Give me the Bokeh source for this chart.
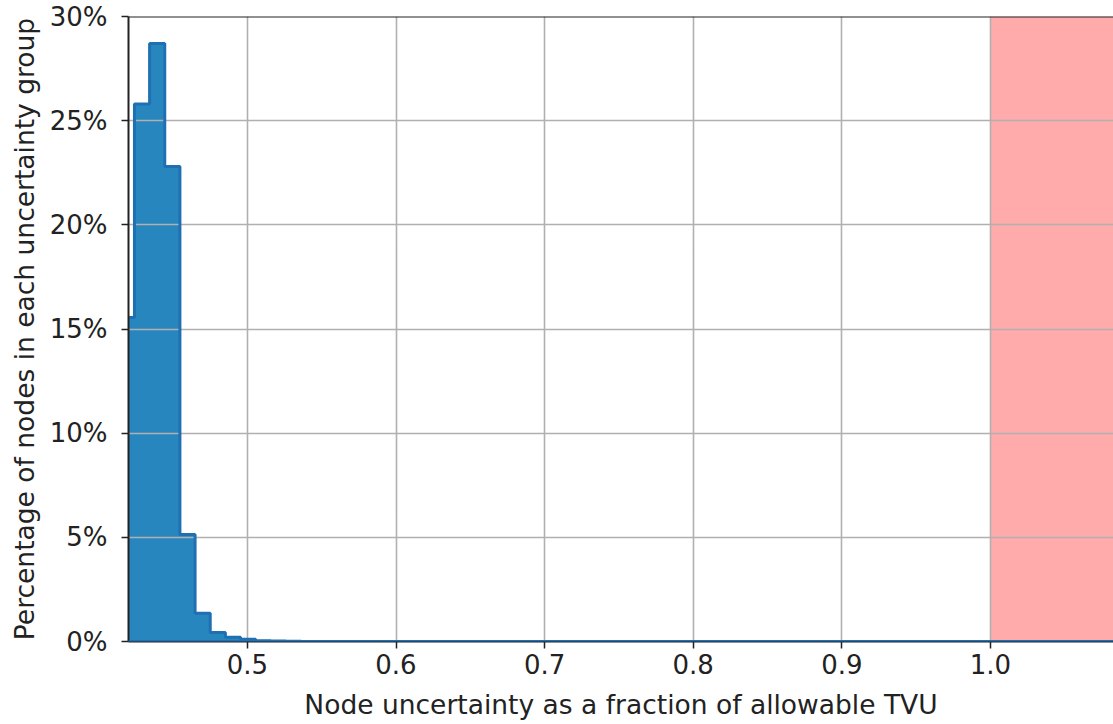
import numpy as np
from bokeh.plotting import figure
from bokeh.models import Range1d, FixedTicker, NumeralTickFormatter, Span
from bokeh.embed import file_html
from bokeh.resources import INLINE

# Histogram of node uncertainty (fraction of allowable TVU)
bin_start = 0.4138
bin_width = 0.0102
pct_nodes = [15.55, 25.8, 28.7, 22.8, 5.14, 1.36, 0.43, 0.21, 0.11, 0.04, 0.02, 0.01]

tvu_limit = 1.0
x_ticks = [0.5, 0.6, 0.7, 0.8, 0.9, 1.0]
y_ticks = [0.0, 0.05, 0.10, 0.15, 0.20, 0.25, 0.30]
x_lo, x_hi = 0.42, 1.0828
y_lo, y_hi = 0.0, 0.30

frac = np.array(pct_nodes) / 100.0
edges = bin_start + bin_width * np.arange(len(frac) + 1)

# stepfilled outline built from the bin edges and heights
xs = [edges[0]]
ys = [0.0]
for i, v in enumerate(frac):
    xs += [edges[i], edges[i + 1]]
    ys += [v, v]
xs.append(edges[-1])
ys.append(0.0)

FONT = "DejaVu Sans"

p = figure(width=1113, height=724, output_backend="svg", toolbar_location=None,
           x_range=Range1d(x_lo, x_hi), y_range=Range1d(y_lo, y_hi),
           min_border_left=128, min_border_right=0, min_border_top=16,
           min_border_bottom=83)
p.outline_line_color = None
p.background_fill_color = "white"
p.border_fill_color = "white"

# region beyond the allowable TVU
p.quad(left=[tvu_limit], right=[x_hi], bottom=[y_lo], top=[y_hi],
       fill_color="#ff0000", fill_alpha=0.33, line_color=None, level="image")

# filled histogram under the grid, outline on top
p.patch(xs, ys, fill_color="#2886be", fill_alpha=1.0, line_color=None, level="image")
p.line(xs, ys, line_color="#1f70b2", line_width=3)
p.add_layout(Span(location=0.0, dimension="width", line_color="#1f70b2", line_width=3))

for g in (p.xgrid, p.ygrid):
    g.grid_line_color = "#b0b0b0"
    g.grid_line_width = 1.6
    g.level = "underlay"
p.xgrid.ticker = FixedTicker(ticks=x_ticks)
p.ygrid.ticker = FixedTicker(ticks=y_ticks)

# top spine
p.add_layout(Span(location=y_hi, dimension="width", line_color="#222222", line_width=2))

p.xaxis.ticker = FixedTicker(ticks=x_ticks)
p.yaxis.ticker = FixedTicker(ticks=y_ticks)
p.xaxis.formatter = NumeralTickFormatter(format="0.0")
p.yaxis.formatter = NumeralTickFormatter(format="0%")
p.xaxis.axis_label = "Node uncertainty as a fraction of allowable TVU"
p.yaxis.axis_label = "Percentage of nodes in each uncertainty group"

for ax in (p.xaxis, p.yaxis):
    ax.axis_line_color = "#222222"
    ax.axis_line_width = 2
    ax.major_tick_line_color = "#222222"
    ax.major_tick_line_width = 1.5
    ax.major_tick_out = 7
    ax.major_tick_in = 0
    ax.minor_tick_line_color = None
    ax.major_label_text_font = FONT
    ax.major_label_text_font_size = "26px"
    ax.major_label_text_color = "#222222"
    ax.axis_label_text_font = FONT
    ax.axis_label_text_font_size = "26.5px"
    ax.axis_label_text_font_style = "normal"
    ax.axis_label_text_color = "#222222"
p.xaxis.major_label_standoff = 5
p.yaxis.major_label_standoff = 14
p.xaxis.axis_label_standoff = 12
p.yaxis.axis_label_standoff = 7

open("out.html", "w").write(file_html(p, INLINE))
